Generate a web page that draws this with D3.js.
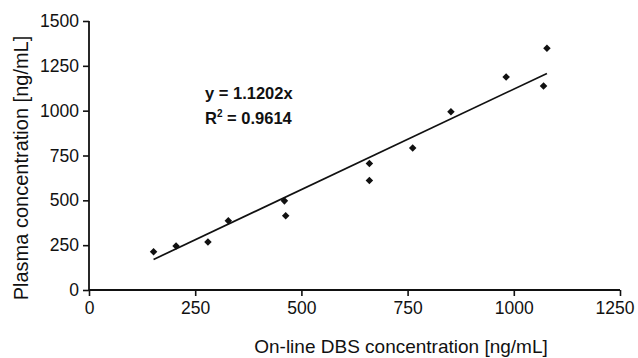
<!DOCTYPE html>
<html>
<head>
<meta charset="utf-8">
<script src="https://cdn.jsdelivr.net/npm/d3@7"></script>
<style>
  body { margin: 0; background: #fff; }
  text { font-family: "Liberation Sans", Arial, sans-serif; fill: #111; }
</style>
</head>
<body>
<script>
// on-line DBS vs plasma concentrations (ng/mL)
const dbs    = [152, 205, 280, 328, 460, 463, 660, 660, 762, 852, 982, 1070, 1078];
const plasma = [213, 245, 268, 386, 497, 414, 610, 706, 792, 994, 1188, 1138, 1348];
const slope = 1.1202;
const xTicks = [0, 250, 500, 750, 1000, 1250];
const yTicks = [0, 250, 500, 750, 1000, 1250, 1500];

const width = 638, height = 358;
const svg = d3.select("body").append("svg")
    .attr("width", width)
    .attr("height", height);

let x = d3.scaleLinear().domain([0, 1250]).range([89, 620]);
let y = d3.scaleLinear().domain([0, 1500]).range([290, 21]);

// axes
let xAxis = svg.append("g")
    .attr("transform", "translate(0,290)")
    .call(d3.axisBottom(x).tickValues(xTicks).tickFormat(d3.format("d")).tickSize(6).tickPadding(6));
let yAxis = svg.append("g")
    .attr("transform", "translate(89,0)")
    .call(d3.axisLeft(y).tickValues(yTicks).tickFormat(d3.format("d")).tickSize(6).tickPadding(4));

[xAxis, yAxis].forEach(g => {
  g.select(".domain").attr("stroke", "#111").attr("stroke-width", 1.8);
  g.selectAll(".tick line").attr("stroke", "#111").attr("stroke-width", 1.6);
  g.selectAll(".tick text")
    .attr("font-family", "Liberation Sans, Arial, sans-serif")
    .attr("font-size", 17.5)
    .attr("fill", "#222");
});
// last x label sits just inside the right edge, as in the original
xAxis.selectAll(".tick text").filter(d => d === 1250)
    .attr("text-anchor", "end").attr("dx", 14);
xAxis.select(".domain").attr("d", "M89,0H620");
yAxis.select(".domain").attr("d", "M0,290V21");

// trend line through origin, drawn over the data range
let xr = d3.extent(dbs);
svg.append("line")
    .attr("x1", x(xr[0])).attr("y1", y(slope * xr[0]))
    .attr("x2", x(xr[1])).attr("y2", y(slope * xr[1]))
    .attr("stroke", "#111")
    .attr("stroke-width", 1.7);

// points
let pts = dbs.map((d, i) => ({ x: d, y: plasma[i] }));
svg.append("g")
   .selectAll("path")
   .data(pts)
   .enter()
   .append("path")
   .attr("d", d3.symbol().type(d3.symbolDiamond2).size(36))
   .attr("transform", d => `translate(${x(d.x)},${y(d.y)})`)
   .attr("fill", "#111");

// equation
let eq = svg.append("g").attr("font-weight", "bold").attr("font-size", 16.5);
eq.append("text").attr("x", 205).attr("y", 99).text("y = 1.1202x");
let r2 = eq.append("text").attr("x", 205).attr("y", 124);
r2.append("tspan").text("R");
r2.append("tspan").attr("font-size", 10).attr("dy", -7).text("2");
r2.append("tspan").attr("dy", 7).text(" = 0.9614");

// axis titles
svg.append("text")
    .attr("x", 401).attr("y", 353)
    .attr("text-anchor", "middle")
    .attr("font-size", 19)
    .text("On-line DBS concentration [ng/mL]");
svg.append("text")
    .attr("transform", "translate(28,168) rotate(-90)")
    .attr("text-anchor", "middle")
    .attr("font-size", 20)
    .text("Plasma concentration [ng/mL]");
</script>
</body>
</html>
